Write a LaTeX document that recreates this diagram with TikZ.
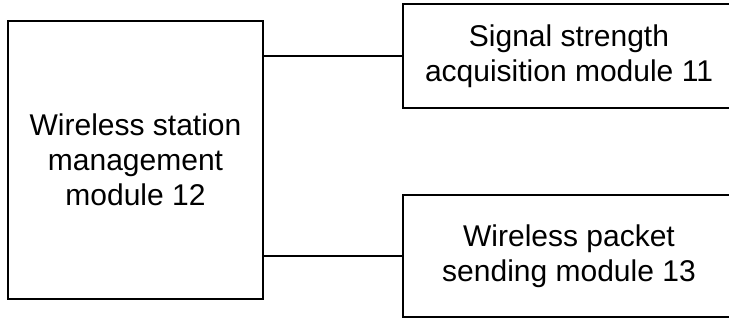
\documentclass[tikz,border=0pt]{standalone}
\usepackage{fontspec}
\setmainfont{Liberation Sans}
\begin{document}
\begin{tikzpicture}[x=1pt,y=-1pt,
  box/.style={draw=black,line width=1.8pt,inner sep=0pt,align=center,
    font=\fontsize{30}{35}\selectfont},
  link/.style={draw=black,line width=1.8pt}]
\useasboundingbox (0,0) rectangle (729,320);
\node[box,minimum width=255pt,minimum height=278pt] (lb) at (135.5,160)
  {Wireless station\\management\\module 12};
\node[box,minimum width=332pt,minimum height=104pt] (rt) at (569,56)
  {Signal strength\\acquisition module 11};
\node[box,minimum width=332pt,minimum height=122pt] (rb) at (569,256)
  {Wireless packet\\sending module 13};
\draw[link] (rt.west) -- (rt.west -| lb.east);
\draw[link] (rb.west) -- (rb.west -| lb.east);
\end{tikzpicture}
\end{document}
